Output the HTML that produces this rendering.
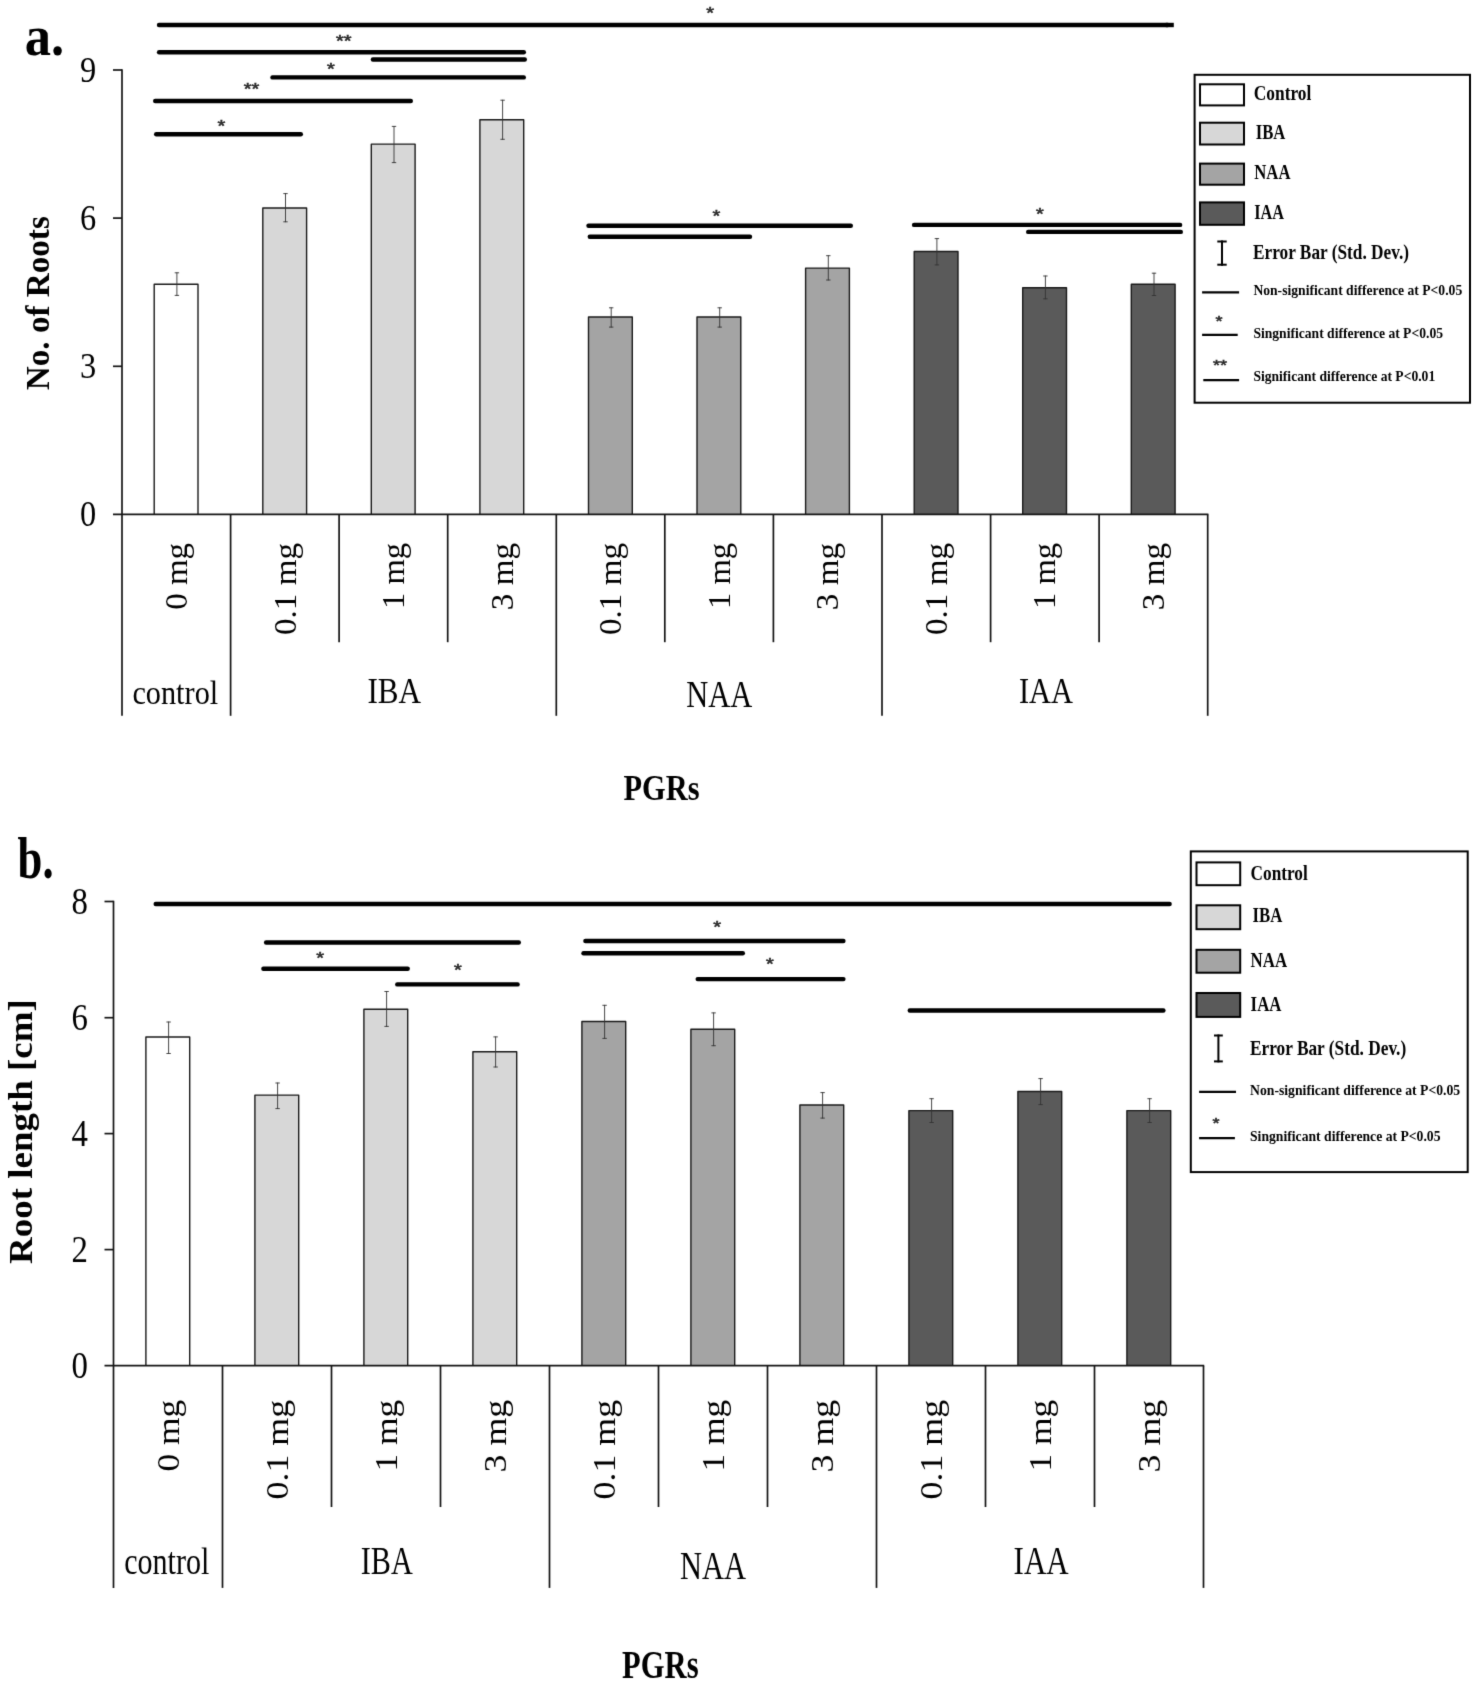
<!DOCTYPE html>
<html><head><meta charset="utf-8"><title>Figure</title>
<style>html,body{margin:0;padding:0;background:#fff;}svg{display:block;filter:grayscale(1);}text{white-space:pre;}</style></head>
<body>
<svg width="1475" height="1688" viewBox="0 0 1475 1688">
<defs><filter id="soft" x="0" y="0" width="100%" height="100%" filterUnits="userSpaceOnUse" color-interpolation-filters="sRGB"><feConvolveMatrix order="3" kernelMatrix="0.012 0.085 0.012 0.085 0.612 0.085 0.012 0.085 0.012" divisor="1" edgeMode="duplicate" preserveAlpha="true"/></filter></defs>
<rect width="1475" height="1688" fill="#fff"/>
<g filter="url(#soft)">
<rect width="1475" height="1688" fill="#fff"/>
<path d="M154.2,514.4 L154.2,284.3 L198.0,284.3 L198.0,514.4" fill="#ffffff" stroke="#1a1a1a" stroke-width="1.4" stroke-linejoin="round"/>
<path d="M262.8,514.4 L262.8,208.0 L306.6,208.0 L306.6,514.4" fill="#d7d7d7" stroke="#1a1a1a" stroke-width="1.4" stroke-linejoin="round"/>
<path d="M371.3,514.4 L371.3,144.1 L415.1,144.1 L415.1,514.4" fill="#d7d7d7" stroke="#1a1a1a" stroke-width="1.4" stroke-linejoin="round"/>
<path d="M479.9,514.4 L479.9,119.7 L523.7,119.7 L523.7,514.4" fill="#d7d7d7" stroke="#1a1a1a" stroke-width="1.4" stroke-linejoin="round"/>
<path d="M588.5,514.4 L588.5,317.0 L632.3,317.0 L632.3,514.4" fill="#a4a4a4" stroke="#1a1a1a" stroke-width="1.4" stroke-linejoin="round"/>
<path d="M697.0,514.4 L697.0,317.0 L740.8,317.0 L740.8,514.4" fill="#a4a4a4" stroke="#1a1a1a" stroke-width="1.4" stroke-linejoin="round"/>
<path d="M805.6,514.4 L805.6,268.1 L849.4,268.1 L849.4,514.4" fill="#a4a4a4" stroke="#1a1a1a" stroke-width="1.4" stroke-linejoin="round"/>
<path d="M914.2,514.4 L914.2,251.5 L958.0,251.5 L958.0,514.4" fill="#5a5a5a" stroke="#1a1a1a" stroke-width="1.4" stroke-linejoin="round"/>
<path d="M1022.7,514.4 L1022.7,287.7 L1066.5,287.7 L1066.5,514.4" fill="#5a5a5a" stroke="#1a1a1a" stroke-width="1.4" stroke-linejoin="round"/>
<path d="M1131.3,514.4 L1131.3,284.2 L1175.1,284.2 L1175.1,514.4" fill="#5a5a5a" stroke="#1a1a1a" stroke-width="1.4" stroke-linejoin="round"/>
<line x1="176.9" y1="272.4" x2="176.9" y2="295.8" stroke="#333" stroke-width="0.9" stroke-linecap="butt"/>
<line x1="174.7" y1="272.8" x2="179.1" y2="272.8" stroke="#333" stroke-width="0.9" stroke-linecap="butt"/>
<line x1="174.7" y1="295.4" x2="179.1" y2="295.4" stroke="#333" stroke-width="0.9" stroke-linecap="butt"/>
<line x1="285.5" y1="193.2" x2="285.5" y2="222.2" stroke="#333" stroke-width="0.9" stroke-linecap="butt"/>
<line x1="283.3" y1="193.6" x2="287.7" y2="193.6" stroke="#333" stroke-width="0.9" stroke-linecap="butt"/>
<line x1="283.3" y1="221.8" x2="287.7" y2="221.8" stroke="#333" stroke-width="0.9" stroke-linecap="butt"/>
<line x1="394.0" y1="126.0" x2="394.0" y2="163.0" stroke="#333" stroke-width="0.9" stroke-linecap="butt"/>
<line x1="391.8" y1="126.4" x2="396.2" y2="126.4" stroke="#333" stroke-width="0.9" stroke-linecap="butt"/>
<line x1="391.8" y1="162.6" x2="396.2" y2="162.6" stroke="#333" stroke-width="0.9" stroke-linecap="butt"/>
<line x1="502.6" y1="99.8" x2="502.6" y2="139.7" stroke="#333" stroke-width="0.9" stroke-linecap="butt"/>
<line x1="500.4" y1="100.2" x2="504.8" y2="100.2" stroke="#333" stroke-width="0.9" stroke-linecap="butt"/>
<line x1="500.4" y1="139.3" x2="504.8" y2="139.3" stroke="#333" stroke-width="0.9" stroke-linecap="butt"/>
<line x1="611.2" y1="307.4" x2="611.2" y2="327.5" stroke="#333" stroke-width="0.9" stroke-linecap="butt"/>
<line x1="609.0" y1="307.8" x2="613.4" y2="307.8" stroke="#333" stroke-width="0.9" stroke-linecap="butt"/>
<line x1="609.0" y1="327.1" x2="613.4" y2="327.1" stroke="#333" stroke-width="0.9" stroke-linecap="butt"/>
<line x1="719.7" y1="307.4" x2="719.7" y2="327.5" stroke="#333" stroke-width="0.9" stroke-linecap="butt"/>
<line x1="717.5" y1="307.8" x2="721.9" y2="307.8" stroke="#333" stroke-width="0.9" stroke-linecap="butt"/>
<line x1="717.5" y1="327.1" x2="721.9" y2="327.1" stroke="#333" stroke-width="0.9" stroke-linecap="butt"/>
<line x1="828.3" y1="255.3" x2="828.3" y2="280.4" stroke="#333" stroke-width="0.9" stroke-linecap="butt"/>
<line x1="826.1" y1="255.7" x2="830.5" y2="255.7" stroke="#333" stroke-width="0.9" stroke-linecap="butt"/>
<line x1="826.1" y1="280.0" x2="830.5" y2="280.0" stroke="#333" stroke-width="0.9" stroke-linecap="butt"/>
<line x1="936.9" y1="238.2" x2="936.9" y2="265.3" stroke="#333" stroke-width="0.9" stroke-linecap="butt"/>
<line x1="934.7" y1="238.6" x2="939.1" y2="238.6" stroke="#333" stroke-width="0.9" stroke-linecap="butt"/>
<line x1="934.7" y1="264.9" x2="939.1" y2="264.9" stroke="#333" stroke-width="0.9" stroke-linecap="butt"/>
<line x1="1045.4" y1="275.6" x2="1045.4" y2="299.2" stroke="#333" stroke-width="0.9" stroke-linecap="butt"/>
<line x1="1043.2" y1="276.0" x2="1047.6" y2="276.0" stroke="#333" stroke-width="0.9" stroke-linecap="butt"/>
<line x1="1043.2" y1="298.8" x2="1047.6" y2="298.8" stroke="#333" stroke-width="0.9" stroke-linecap="butt"/>
<line x1="1154.0" y1="272.8" x2="1154.0" y2="295.9" stroke="#333" stroke-width="0.9" stroke-linecap="butt"/>
<line x1="1151.8" y1="273.2" x2="1156.2" y2="273.2" stroke="#333" stroke-width="0.9" stroke-linecap="butt"/>
<line x1="1151.8" y1="295.5" x2="1156.2" y2="295.5" stroke="#333" stroke-width="0.9" stroke-linecap="butt"/>
<line x1="122.0" y1="69.3" x2="122.0" y2="715.8" stroke="#151515" stroke-width="1.7" stroke-linecap="butt"/>
<line x1="113.0" y1="514.4" x2="1208.4" y2="514.4" stroke="#151515" stroke-width="1.7" stroke-linecap="butt"/>
<line x1="230.6" y1="514.4" x2="230.6" y2="715.8" stroke="#151515" stroke-width="1.7" stroke-linecap="butt"/>
<line x1="339.1" y1="514.4" x2="339.1" y2="642.2" stroke="#151515" stroke-width="1.7" stroke-linecap="butt"/>
<line x1="447.7" y1="514.4" x2="447.7" y2="642.2" stroke="#151515" stroke-width="1.7" stroke-linecap="butt"/>
<line x1="556.3" y1="514.4" x2="556.3" y2="715.8" stroke="#151515" stroke-width="1.7" stroke-linecap="butt"/>
<line x1="664.8" y1="514.4" x2="664.8" y2="642.2" stroke="#151515" stroke-width="1.7" stroke-linecap="butt"/>
<line x1="773.4" y1="514.4" x2="773.4" y2="642.2" stroke="#151515" stroke-width="1.7" stroke-linecap="butt"/>
<line x1="882.0" y1="514.4" x2="882.0" y2="715.8" stroke="#151515" stroke-width="1.7" stroke-linecap="butt"/>
<line x1="990.6" y1="514.4" x2="990.6" y2="642.2" stroke="#151515" stroke-width="1.7" stroke-linecap="butt"/>
<line x1="1099.1" y1="514.4" x2="1099.1" y2="642.2" stroke="#151515" stroke-width="1.7" stroke-linecap="butt"/>
<line x1="1207.7" y1="514.4" x2="1207.7" y2="715.8" stroke="#151515" stroke-width="1.7" stroke-linecap="butt"/>
<line x1="113.0" y1="70.0" x2="122.0" y2="70.0" stroke="#151515" stroke-width="1.7" stroke-linecap="butt"/>
<text x="88.1" y="81.8" font-family='"Liberation Serif", serif' font-size="35" font-weight="normal" text-anchor="middle" fill="#000" textLength="16.2" lengthAdjust="spacingAndGlyphs">9</text>
<line x1="113.0" y1="218.1" x2="122.0" y2="218.1" stroke="#151515" stroke-width="1.7" stroke-linecap="butt"/>
<text x="88.1" y="229.9" font-family='"Liberation Serif", serif' font-size="35" font-weight="normal" text-anchor="middle" fill="#000" textLength="16.2" lengthAdjust="spacingAndGlyphs">6</text>
<line x1="113.0" y1="366.3" x2="122.0" y2="366.3" stroke="#151515" stroke-width="1.7" stroke-linecap="butt"/>
<text x="88.1" y="378.1" font-family='"Liberation Serif", serif' font-size="35" font-weight="normal" text-anchor="middle" fill="#000" textLength="16.2" lengthAdjust="spacingAndGlyphs">3</text>
<text x="88.1" y="526.2" font-family='"Liberation Serif", serif' font-size="35" font-weight="normal" text-anchor="middle" fill="#000" textLength="16.2" lengthAdjust="spacingAndGlyphs">0</text>
<line x1="159.0" y1="25.0" x2="1167.8" y2="25.0" stroke="#000" stroke-width="4.4" stroke-linecap="round"/>
<line x1="1165.8" y1="25.0" x2="1173.8" y2="25.0" stroke="#000" stroke-width="4.4" stroke-linecap="butt"/>
<line x1="159.1" y1="52.3" x2="523.8" y2="52.3" stroke="#000" stroke-width="4.4" stroke-linecap="round"/>
<line x1="372.9" y1="59.5" x2="524.8" y2="59.5" stroke="#000" stroke-width="4.4" stroke-linecap="round"/>
<line x1="272.5" y1="77.4" x2="523.8" y2="77.4" stroke="#000" stroke-width="4.4" stroke-linecap="round"/>
<line x1="155.2" y1="101.0" x2="410.8" y2="101.0" stroke="#000" stroke-width="4.4" stroke-linecap="round"/>
<line x1="156.2" y1="134.2" x2="300.8" y2="134.2" stroke="#000" stroke-width="4.4" stroke-linecap="round"/>
<line x1="588.5" y1="225.7" x2="850.8" y2="225.7" stroke="#000" stroke-width="4.4" stroke-linecap="round"/>
<line x1="589.8" y1="236.7" x2="750.0" y2="236.7" stroke="#000" stroke-width="4.4" stroke-linecap="round"/>
<line x1="914.1" y1="224.9" x2="1180.1" y2="224.9" stroke="#000" stroke-width="4.4" stroke-linecap="round"/>
<line x1="1028.2" y1="231.9" x2="1180.8" y2="231.9" stroke="#000" stroke-width="4.4" stroke-linecap="round"/>
<text transform="translate(710.2,10.0) scale(1,0.84)" x="0" y="10.6" font-family='"Liberation Sans", sans-serif' font-size="20" text-anchor="middle" fill="#2a2a2a" stroke="#2a2a2a" stroke-width="0.7">*</text>
<text transform="translate(343.7,37.7) scale(1,0.84)" x="0" y="10.6" font-family='"Liberation Sans", sans-serif' font-size="20" text-anchor="middle" fill="#2a2a2a" stroke="#2a2a2a" stroke-width="0.7">**</text>
<text transform="translate(330.8,66.1) scale(1,0.84)" x="0" y="10.6" font-family='"Liberation Sans", sans-serif' font-size="20" text-anchor="middle" fill="#2a2a2a" stroke="#2a2a2a" stroke-width="0.7">*</text>
<text transform="translate(251.5,86.3) scale(1,0.84)" x="0" y="10.6" font-family='"Liberation Sans", sans-serif' font-size="20" text-anchor="middle" fill="#2a2a2a" stroke="#2a2a2a" stroke-width="0.7">**</text>
<text transform="translate(221.5,123.3) scale(1,0.84)" x="0" y="10.6" font-family='"Liberation Sans", sans-serif' font-size="20" text-anchor="middle" fill="#2a2a2a" stroke="#2a2a2a" stroke-width="0.7">*</text>
<text transform="translate(716.5,213.1) scale(1,0.84)" x="0" y="10.6" font-family='"Liberation Sans", sans-serif' font-size="20" text-anchor="middle" fill="#2a2a2a" stroke="#2a2a2a" stroke-width="0.7">*</text>
<text transform="translate(1039.8,211.3) scale(1,0.84)" x="0" y="10.6" font-family='"Liberation Sans", sans-serif' font-size="20" text-anchor="middle" fill="#2a2a2a" stroke="#2a2a2a" stroke-width="0.7">*</text>
<text transform="translate(186.9,543.0) rotate(-90)" font-family='"Liberation Serif", serif' font-size="32" font-weight="normal" text-anchor="end" fill="#000" textLength="66.8" lengthAdjust="spacingAndGlyphs">0 mg</text>
<text transform="translate(295.5,543.0) rotate(-90)" font-family='"Liberation Serif", serif' font-size="32" font-weight="normal" text-anchor="end" fill="#000" textLength="92.0" lengthAdjust="spacingAndGlyphs">0.1 mg</text>
<text transform="translate(404.0,543.0) rotate(-90)" font-family='"Liberation Serif", serif' font-size="32" font-weight="normal" text-anchor="end" fill="#000" textLength="66.0" lengthAdjust="spacingAndGlyphs">1 mg</text>
<text transform="translate(512.6,543.0) rotate(-90)" font-family='"Liberation Serif", serif' font-size="32" font-weight="normal" text-anchor="end" fill="#000" textLength="67.2" lengthAdjust="spacingAndGlyphs">3 mg</text>
<text transform="translate(621.2,543.0) rotate(-90)" font-family='"Liberation Serif", serif' font-size="32" font-weight="normal" text-anchor="end" fill="#000" textLength="92.0" lengthAdjust="spacingAndGlyphs">0.1 mg</text>
<text transform="translate(729.7,543.0) rotate(-90)" font-family='"Liberation Serif", serif' font-size="32" font-weight="normal" text-anchor="end" fill="#000" textLength="66.0" lengthAdjust="spacingAndGlyphs">1 mg</text>
<text transform="translate(838.3,543.0) rotate(-90)" font-family='"Liberation Serif", serif' font-size="32" font-weight="normal" text-anchor="end" fill="#000" textLength="67.2" lengthAdjust="spacingAndGlyphs">3 mg</text>
<text transform="translate(946.9,543.0) rotate(-90)" font-family='"Liberation Serif", serif' font-size="32" font-weight="normal" text-anchor="end" fill="#000" textLength="92.0" lengthAdjust="spacingAndGlyphs">0.1 mg</text>
<text transform="translate(1055.4,543.0) rotate(-90)" font-family='"Liberation Serif", serif' font-size="32" font-weight="normal" text-anchor="end" fill="#000" textLength="66.0" lengthAdjust="spacingAndGlyphs">1 mg</text>
<text transform="translate(1164.0,543.0) rotate(-90)" font-family='"Liberation Serif", serif' font-size="32" font-weight="normal" text-anchor="end" fill="#000" textLength="67.2" lengthAdjust="spacingAndGlyphs">3 mg</text>
<text x="132.4" y="703.8" font-family='"Liberation Serif", serif' font-size="34" font-weight="normal" text-anchor="start" fill="#000" textLength="85.8" lengthAdjust="spacingAndGlyphs">control</text>
<text x="367.4" y="703.4" font-family='"Liberation Serif", serif' font-size="36.5" font-weight="normal" text-anchor="start" fill="#000" textLength="53.6" lengthAdjust="spacingAndGlyphs">IBA</text>
<text x="686.2" y="707.0" font-family='"Liberation Serif", serif' font-size="37" font-weight="normal" text-anchor="start" fill="#000" textLength="66.0" lengthAdjust="spacingAndGlyphs">NAA</text>
<text x="1018.9" y="703.4" font-family='"Liberation Serif", serif' font-size="36.5" font-weight="normal" text-anchor="start" fill="#000" textLength="54.0" lengthAdjust="spacingAndGlyphs">IAA</text>
<text x="623.5" y="800.2" font-family='"Liberation Serif", serif' font-size="36.5" font-weight="bold" text-anchor="start" fill="#000" textLength="76.0" lengthAdjust="spacingAndGlyphs">PGRs</text>
<text x="24.8" y="54.9" font-family='"Liberation Serif", serif' font-size="58" font-weight="bold" text-anchor="start" fill="#000" textLength="39.4" lengthAdjust="spacingAndGlyphs">a.</text>
<text transform="translate(48.8,303.2) rotate(-90)" font-family='"Liberation Serif", serif' font-size="33" font-weight="bold" text-anchor="middle" fill="#000" textLength="174.0" lengthAdjust="spacingAndGlyphs">No. of Roots</text>
<rect x="1194.6" y="74.8" width="275.4" height="327.9" fill="#fff" stroke="#000" stroke-width="2"/>
<rect x="1200.0" y="84.3" width="44.0" height="21.1" fill="#ffffff" stroke="#000" stroke-width="2"/>
<rect x="1200.0" y="122.7" width="44.0" height="21.8" fill="#d7d7d7" stroke="#000" stroke-width="2"/>
<rect x="1200.0" y="163.6" width="44.0" height="21.1" fill="#a4a4a4" stroke="#000" stroke-width="2"/>
<rect x="1200.0" y="202.4" width="44.0" height="22.4" fill="#5a5a5a" stroke="#000" stroke-width="2"/>
<text x="1253.8" y="100.4" font-family='"Liberation Serif", serif' font-size="20" font-weight="bold" text-anchor="start" fill="#000" textLength="57.5" lengthAdjust="spacingAndGlyphs">Control</text>
<text x="1255.8" y="138.7" font-family='"Liberation Serif", serif' font-size="20" font-weight="bold" text-anchor="start" fill="#000" textLength="29.6" lengthAdjust="spacingAndGlyphs">IBA</text>
<text x="1254.3" y="178.9" font-family='"Liberation Serif", serif' font-size="20" font-weight="bold" text-anchor="start" fill="#000" textLength="36.2" lengthAdjust="spacingAndGlyphs">NAA</text>
<text x="1254.3" y="218.9" font-family='"Liberation Serif", serif' font-size="20" font-weight="bold" text-anchor="start" fill="#000" textLength="29.8" lengthAdjust="spacingAndGlyphs">IAA</text>
<text x="1253.0" y="259.2" font-family='"Liberation Serif", serif' font-size="20" font-weight="bold" text-anchor="start" fill="#000" textLength="156.0" lengthAdjust="spacingAndGlyphs">Error Bar (Std. Dev.)</text>
<line x1="1222.0" y1="240.5" x2="1222.0" y2="265.7" stroke="#000" stroke-width="2" stroke-linecap="butt"/>
<line x1="1217.3" y1="241.5" x2="1226.7" y2="241.5" stroke="#000" stroke-width="2" stroke-linecap="butt"/>
<line x1="1217.3" y1="264.7" x2="1226.7" y2="264.7" stroke="#000" stroke-width="2" stroke-linecap="butt"/>
<line x1="1202.1" y1="292.4" x2="1239.1" y2="292.4" stroke="#000" stroke-width="2.4" stroke-linecap="butt"/>
<text x="1253.4" y="295.2" font-family='"Liberation Serif", serif' font-size="13.9" font-weight="bold" text-anchor="start" fill="#000" textLength="208.8" lengthAdjust="spacingAndGlyphs">Non-significant difference at P&lt;0.05</text>
<line x1="1202.1" y1="334.9" x2="1237.7" y2="334.9" stroke="#000" stroke-width="2.4" stroke-linecap="butt"/>
<text x="1253.4" y="337.5" font-family='"Liberation Serif", serif' font-size="13.9" font-weight="bold" text-anchor="start" fill="#000" textLength="189.6" lengthAdjust="spacingAndGlyphs">Singnificant difference at P&lt;0.05</text>
<text transform="translate(1219.0,318.8) scale(1,0.84)" x="0" y="9.0" font-family='"Liberation Sans", sans-serif' font-size="18" text-anchor="middle" fill="#2a2a2a" stroke="#2a2a2a" stroke-width="0.7">*</text>
<line x1="1203.3" y1="380.1" x2="1239.1" y2="380.1" stroke="#000" stroke-width="2.4" stroke-linecap="butt"/>
<text x="1253.4" y="381.1" font-family='"Liberation Serif", serif' font-size="13.9" font-weight="bold" text-anchor="start" fill="#000" textLength="181.8" lengthAdjust="spacingAndGlyphs">Significant difference at P&lt;0.01</text>
<text transform="translate(1220.0,362.8) scale(1,0.84)" x="0" y="9.0" font-family='"Liberation Sans", sans-serif' font-size="18" text-anchor="middle" fill="#2a2a2a" stroke="#2a2a2a" stroke-width="0.7">**</text>
<path d="M145.9,1365.7 L145.9,1037.0 L189.7,1037.0 L189.7,1365.7" fill="#ffffff" stroke="#1a1a1a" stroke-width="1.4" stroke-linejoin="round"/>
<path d="M254.9,1365.7 L254.9,1095.1 L298.7,1095.1 L298.7,1365.7" fill="#d7d7d7" stroke="#1a1a1a" stroke-width="1.4" stroke-linejoin="round"/>
<path d="M363.9,1365.7 L363.9,1009.3 L407.7,1009.3 L407.7,1365.7" fill="#d7d7d7" stroke="#1a1a1a" stroke-width="1.4" stroke-linejoin="round"/>
<path d="M472.9,1365.7 L472.9,1051.8 L516.7,1051.8 L516.7,1365.7" fill="#d7d7d7" stroke="#1a1a1a" stroke-width="1.4" stroke-linejoin="round"/>
<path d="M581.9,1365.7 L581.9,1021.5 L625.7,1021.5 L625.7,1365.7" fill="#a4a4a4" stroke="#1a1a1a" stroke-width="1.4" stroke-linejoin="round"/>
<path d="M690.9,1365.7 L690.9,1029.3 L734.7,1029.3 L734.7,1365.7" fill="#a4a4a4" stroke="#1a1a1a" stroke-width="1.4" stroke-linejoin="round"/>
<path d="M799.9,1365.7 L799.9,1105.0 L843.7,1105.0 L843.7,1365.7" fill="#a4a4a4" stroke="#1a1a1a" stroke-width="1.4" stroke-linejoin="round"/>
<path d="M908.9,1365.7 L908.9,1110.6 L952.7,1110.6 L952.7,1365.7" fill="#5a5a5a" stroke="#1a1a1a" stroke-width="1.4" stroke-linejoin="round"/>
<path d="M1017.9,1365.7 L1017.9,1091.5 L1061.7,1091.5 L1061.7,1365.7" fill="#5a5a5a" stroke="#1a1a1a" stroke-width="1.4" stroke-linejoin="round"/>
<path d="M1126.9,1365.7 L1126.9,1110.6 L1170.7,1110.6 L1170.7,1365.7" fill="#5a5a5a" stroke="#1a1a1a" stroke-width="1.4" stroke-linejoin="round"/>
<line x1="168.6" y1="1021.6" x2="168.6" y2="1053.9" stroke="#333" stroke-width="0.9" stroke-linecap="butt"/>
<line x1="166.4" y1="1022.0" x2="170.8" y2="1022.0" stroke="#333" stroke-width="0.9" stroke-linecap="butt"/>
<line x1="166.4" y1="1053.5" x2="170.8" y2="1053.5" stroke="#333" stroke-width="0.9" stroke-linecap="butt"/>
<line x1="277.6" y1="1082.6" x2="277.6" y2="1109.0" stroke="#333" stroke-width="0.9" stroke-linecap="butt"/>
<line x1="275.4" y1="1083.0" x2="279.8" y2="1083.0" stroke="#333" stroke-width="0.9" stroke-linecap="butt"/>
<line x1="275.4" y1="1108.6" x2="279.8" y2="1108.6" stroke="#333" stroke-width="0.9" stroke-linecap="butt"/>
<line x1="386.6" y1="991.1" x2="386.6" y2="1026.8" stroke="#333" stroke-width="0.9" stroke-linecap="butt"/>
<line x1="384.4" y1="991.5" x2="388.8" y2="991.5" stroke="#333" stroke-width="0.9" stroke-linecap="butt"/>
<line x1="384.4" y1="1026.4" x2="388.8" y2="1026.4" stroke="#333" stroke-width="0.9" stroke-linecap="butt"/>
<line x1="495.6" y1="1036.5" x2="495.6" y2="1067.4" stroke="#333" stroke-width="0.9" stroke-linecap="butt"/>
<line x1="493.4" y1="1036.9" x2="497.8" y2="1036.9" stroke="#333" stroke-width="0.9" stroke-linecap="butt"/>
<line x1="493.4" y1="1067.0" x2="497.8" y2="1067.0" stroke="#333" stroke-width="0.9" stroke-linecap="butt"/>
<line x1="604.6" y1="1004.9" x2="604.6" y2="1038.8" stroke="#333" stroke-width="0.9" stroke-linecap="butt"/>
<line x1="602.4" y1="1005.3" x2="606.8" y2="1005.3" stroke="#333" stroke-width="0.9" stroke-linecap="butt"/>
<line x1="602.4" y1="1038.4" x2="606.8" y2="1038.4" stroke="#333" stroke-width="0.9" stroke-linecap="butt"/>
<line x1="713.6" y1="1012.5" x2="713.6" y2="1046.1" stroke="#333" stroke-width="0.9" stroke-linecap="butt"/>
<line x1="711.4" y1="1012.9" x2="715.8" y2="1012.9" stroke="#333" stroke-width="0.9" stroke-linecap="butt"/>
<line x1="711.4" y1="1045.7" x2="715.8" y2="1045.7" stroke="#333" stroke-width="0.9" stroke-linecap="butt"/>
<line x1="822.6" y1="1092.2" x2="822.6" y2="1118.5" stroke="#333" stroke-width="0.9" stroke-linecap="butt"/>
<line x1="820.4" y1="1092.6" x2="824.8" y2="1092.6" stroke="#333" stroke-width="0.9" stroke-linecap="butt"/>
<line x1="820.4" y1="1118.1" x2="824.8" y2="1118.1" stroke="#333" stroke-width="0.9" stroke-linecap="butt"/>
<line x1="931.6" y1="1098.3" x2="931.6" y2="1122.9" stroke="#333" stroke-width="0.9" stroke-linecap="butt"/>
<line x1="929.4" y1="1098.7" x2="933.8" y2="1098.7" stroke="#333" stroke-width="0.9" stroke-linecap="butt"/>
<line x1="929.4" y1="1122.5" x2="933.8" y2="1122.5" stroke="#333" stroke-width="0.9" stroke-linecap="butt"/>
<line x1="1040.6" y1="1078.2" x2="1040.6" y2="1105.0" stroke="#333" stroke-width="0.9" stroke-linecap="butt"/>
<line x1="1038.4" y1="1078.6" x2="1042.8" y2="1078.6" stroke="#333" stroke-width="0.9" stroke-linecap="butt"/>
<line x1="1038.4" y1="1104.6" x2="1042.8" y2="1104.6" stroke="#333" stroke-width="0.9" stroke-linecap="butt"/>
<line x1="1149.6" y1="1098.3" x2="1149.6" y2="1122.9" stroke="#333" stroke-width="0.9" stroke-linecap="butt"/>
<line x1="1147.4" y1="1098.7" x2="1151.8" y2="1098.7" stroke="#333" stroke-width="0.9" stroke-linecap="butt"/>
<line x1="1147.4" y1="1122.5" x2="1151.8" y2="1122.5" stroke="#333" stroke-width="0.9" stroke-linecap="butt"/>
<line x1="113.5" y1="900.8" x2="113.5" y2="1587.9" stroke="#151515" stroke-width="1.7" stroke-linecap="butt"/>
<line x1="104.5" y1="1365.7" x2="1204.2" y2="1365.7" stroke="#151515" stroke-width="1.7" stroke-linecap="butt"/>
<line x1="222.5" y1="1365.7" x2="222.5" y2="1587.9" stroke="#151515" stroke-width="1.7" stroke-linecap="butt"/>
<line x1="331.5" y1="1365.7" x2="331.5" y2="1507.0" stroke="#151515" stroke-width="1.7" stroke-linecap="butt"/>
<line x1="440.5" y1="1365.7" x2="440.5" y2="1507.0" stroke="#151515" stroke-width="1.7" stroke-linecap="butt"/>
<line x1="549.5" y1="1365.7" x2="549.5" y2="1587.9" stroke="#151515" stroke-width="1.7" stroke-linecap="butt"/>
<line x1="658.5" y1="1365.7" x2="658.5" y2="1507.0" stroke="#151515" stroke-width="1.7" stroke-linecap="butt"/>
<line x1="767.5" y1="1365.7" x2="767.5" y2="1507.0" stroke="#151515" stroke-width="1.7" stroke-linecap="butt"/>
<line x1="876.5" y1="1365.7" x2="876.5" y2="1587.9" stroke="#151515" stroke-width="1.7" stroke-linecap="butt"/>
<line x1="985.5" y1="1365.7" x2="985.5" y2="1507.0" stroke="#151515" stroke-width="1.7" stroke-linecap="butt"/>
<line x1="1094.5" y1="1365.7" x2="1094.5" y2="1507.0" stroke="#151515" stroke-width="1.7" stroke-linecap="butt"/>
<line x1="1203.5" y1="1365.7" x2="1203.5" y2="1587.9" stroke="#151515" stroke-width="1.7" stroke-linecap="butt"/>
<line x1="104.5" y1="901.5" x2="113.5" y2="901.5" stroke="#151515" stroke-width="1.7" stroke-linecap="butt"/>
<text x="79.7" y="913.9" font-family='"Liberation Serif", serif' font-size="37.5" font-weight="normal" text-anchor="middle" fill="#000" textLength="16.4" lengthAdjust="spacingAndGlyphs">8</text>
<line x1="104.5" y1="1017.7" x2="113.5" y2="1017.7" stroke="#151515" stroke-width="1.7" stroke-linecap="butt"/>
<text x="79.7" y="1030.1" font-family='"Liberation Serif", serif' font-size="37.5" font-weight="normal" text-anchor="middle" fill="#000" textLength="16.4" lengthAdjust="spacingAndGlyphs">6</text>
<line x1="104.5" y1="1133.6" x2="113.5" y2="1133.6" stroke="#151515" stroke-width="1.7" stroke-linecap="butt"/>
<text x="79.7" y="1146.0" font-family='"Liberation Serif", serif' font-size="37.5" font-weight="normal" text-anchor="middle" fill="#000" textLength="16.4" lengthAdjust="spacingAndGlyphs">4</text>
<line x1="104.5" y1="1249.6" x2="113.5" y2="1249.6" stroke="#151515" stroke-width="1.7" stroke-linecap="butt"/>
<text x="79.7" y="1262.0" font-family='"Liberation Serif", serif' font-size="37.5" font-weight="normal" text-anchor="middle" fill="#000" textLength="16.4" lengthAdjust="spacingAndGlyphs">2</text>
<text x="79.7" y="1378.1" font-family='"Liberation Serif", serif' font-size="37.5" font-weight="normal" text-anchor="middle" fill="#000" textLength="16.4" lengthAdjust="spacingAndGlyphs">0</text>
<line x1="155.7" y1="904.0" x2="1169.6" y2="904.0" stroke="#000" stroke-width="4.4" stroke-linecap="round"/>
<line x1="266.1" y1="942.5" x2="518.8" y2="942.5" stroke="#000" stroke-width="4.4" stroke-linecap="round"/>
<line x1="263.4" y1="968.7" x2="407.7" y2="968.7" stroke="#000" stroke-width="4.4" stroke-linecap="round"/>
<line x1="397.3" y1="984.4" x2="517.6" y2="984.4" stroke="#000" stroke-width="4.4" stroke-linecap="round"/>
<line x1="585.4" y1="941.0" x2="843.4" y2="941.0" stroke="#000" stroke-width="4.4" stroke-linecap="round"/>
<line x1="583.5" y1="953.3" x2="742.8" y2="953.3" stroke="#000" stroke-width="4.4" stroke-linecap="round"/>
<line x1="697.7" y1="979.1" x2="843.4" y2="979.1" stroke="#000" stroke-width="4.4" stroke-linecap="round"/>
<line x1="909.8" y1="1010.5" x2="1163.4" y2="1010.5" stroke="#000" stroke-width="4.4" stroke-linecap="round"/>
<text transform="translate(320.1,955.5) scale(1,0.84)" x="0" y="10.6" font-family='"Liberation Sans", sans-serif' font-size="20" text-anchor="middle" fill="#2a2a2a" stroke="#2a2a2a" stroke-width="0.7">*</text>
<text transform="translate(458.0,967.5) scale(1,0.84)" x="0" y="10.6" font-family='"Liberation Sans", sans-serif' font-size="20" text-anchor="middle" fill="#2a2a2a" stroke="#2a2a2a" stroke-width="0.7">*</text>
<text transform="translate(717.1,924.1) scale(1,0.84)" x="0" y="10.6" font-family='"Liberation Sans", sans-serif' font-size="20" text-anchor="middle" fill="#2a2a2a" stroke="#2a2a2a" stroke-width="0.7">*</text>
<text transform="translate(769.8,960.8) scale(1,0.84)" x="0" y="10.6" font-family='"Liberation Sans", sans-serif' font-size="20" text-anchor="middle" fill="#2a2a2a" stroke="#2a2a2a" stroke-width="0.7">*</text>
<text transform="translate(178.7,1399.7) rotate(-90)" font-family='"Liberation Serif", serif' font-size="31.5" font-weight="normal" text-anchor="end" fill="#000" textLength="71.8" lengthAdjust="spacingAndGlyphs">0 mg</text>
<text transform="translate(287.7,1399.7) rotate(-90)" font-family='"Liberation Serif", serif' font-size="31.5" font-weight="normal" text-anchor="end" fill="#000" textLength="99.9" lengthAdjust="spacingAndGlyphs">0.1 mg</text>
<text transform="translate(396.7,1399.7) rotate(-90)" font-family='"Liberation Serif", serif' font-size="31.5" font-weight="normal" text-anchor="end" fill="#000" textLength="71.8" lengthAdjust="spacingAndGlyphs">1 mg</text>
<text transform="translate(505.7,1399.7) rotate(-90)" font-family='"Liberation Serif", serif' font-size="31.5" font-weight="normal" text-anchor="end" fill="#000" textLength="72.8" lengthAdjust="spacingAndGlyphs">3 mg</text>
<text transform="translate(614.7,1399.7) rotate(-90)" font-family='"Liberation Serif", serif' font-size="31.5" font-weight="normal" text-anchor="end" fill="#000" textLength="99.9" lengthAdjust="spacingAndGlyphs">0.1 mg</text>
<text transform="translate(723.7,1399.7) rotate(-90)" font-family='"Liberation Serif", serif' font-size="31.5" font-weight="normal" text-anchor="end" fill="#000" textLength="71.8" lengthAdjust="spacingAndGlyphs">1 mg</text>
<text transform="translate(832.7,1399.7) rotate(-90)" font-family='"Liberation Serif", serif' font-size="31.5" font-weight="normal" text-anchor="end" fill="#000" textLength="72.8" lengthAdjust="spacingAndGlyphs">3 mg</text>
<text transform="translate(941.7,1399.7) rotate(-90)" font-family='"Liberation Serif", serif' font-size="31.5" font-weight="normal" text-anchor="end" fill="#000" textLength="99.9" lengthAdjust="spacingAndGlyphs">0.1 mg</text>
<text transform="translate(1050.7,1399.7) rotate(-90)" font-family='"Liberation Serif", serif' font-size="31.5" font-weight="normal" text-anchor="end" fill="#000" textLength="71.8" lengthAdjust="spacingAndGlyphs">1 mg</text>
<text transform="translate(1159.7,1399.7) rotate(-90)" font-family='"Liberation Serif", serif' font-size="31.5" font-weight="normal" text-anchor="end" fill="#000" textLength="72.8" lengthAdjust="spacingAndGlyphs">3 mg</text>
<text x="124.2" y="1574.3" font-family='"Liberation Serif", serif' font-size="37.5" font-weight="normal" text-anchor="start" fill="#000" textLength="85.2" lengthAdjust="spacingAndGlyphs">control</text>
<text x="360.8" y="1574.2" font-family='"Liberation Serif", serif' font-size="39" font-weight="normal" text-anchor="start" fill="#000" textLength="52.0" lengthAdjust="spacingAndGlyphs">IBA</text>
<text x="680.0" y="1579.3" font-family='"Liberation Serif", serif' font-size="39" font-weight="normal" text-anchor="start" fill="#000" textLength="66.0" lengthAdjust="spacingAndGlyphs">NAA</text>
<text x="1013.6" y="1574.2" font-family='"Liberation Serif", serif' font-size="39" font-weight="normal" text-anchor="start" fill="#000" textLength="55.0" lengthAdjust="spacingAndGlyphs">IAA</text>
<text x="622.0" y="1678.3" font-family='"Liberation Serif", serif' font-size="40" font-weight="bold" text-anchor="start" fill="#000" textLength="76.6" lengthAdjust="spacingAndGlyphs">PGRs</text>
<text x="17.6" y="878.0" font-family='"Liberation Serif", serif' font-size="59" font-weight="bold" text-anchor="start" fill="#000" textLength="36.0" lengthAdjust="spacingAndGlyphs">b.</text>
<text transform="translate(31.5,1131.6) rotate(-90)" font-family='"Liberation Serif", serif' font-size="33" font-weight="bold" text-anchor="middle" fill="#000" textLength="264.6" lengthAdjust="spacingAndGlyphs">Root length [cm]</text>
<rect x="1190.8" y="851.4" width="276.9" height="320.7" fill="#fff" stroke="#000" stroke-width="2"/>
<rect x="1196.5" y="862.4" width="43.7" height="22.8" fill="#ffffff" stroke="#000" stroke-width="2"/>
<rect x="1196.5" y="905.3" width="43.7" height="23.9" fill="#d7d7d7" stroke="#000" stroke-width="2"/>
<rect x="1196.5" y="949.8" width="43.7" height="22.9" fill="#a4a4a4" stroke="#000" stroke-width="2"/>
<rect x="1196.5" y="993.0" width="43.7" height="23.9" fill="#5a5a5a" stroke="#000" stroke-width="2"/>
<text x="1250.6" y="879.8" font-family='"Liberation Serif", serif' font-size="21" font-weight="bold" text-anchor="start" fill="#000" textLength="57.2" lengthAdjust="spacingAndGlyphs">Control</text>
<text x="1252.5" y="922.3" font-family='"Liberation Serif", serif' font-size="21" font-weight="bold" text-anchor="start" fill="#000" textLength="29.8" lengthAdjust="spacingAndGlyphs">IBA</text>
<text x="1250.6" y="966.5" font-family='"Liberation Serif", serif' font-size="21" font-weight="bold" text-anchor="start" fill="#000" textLength="36.5" lengthAdjust="spacingAndGlyphs">NAA</text>
<text x="1250.6" y="1010.6" font-family='"Liberation Serif", serif' font-size="21" font-weight="bold" text-anchor="start" fill="#000" textLength="30.8" lengthAdjust="spacingAndGlyphs">IAA</text>
<text x="1250.0" y="1055.0" font-family='"Liberation Serif", serif' font-size="21" font-weight="bold" text-anchor="start" fill="#000" textLength="156.2" lengthAdjust="spacingAndGlyphs">Error Bar (Std. Dev.)</text>
<line x1="1218.4" y1="1034.5" x2="1218.4" y2="1062.4" stroke="#000" stroke-width="2" stroke-linecap="butt"/>
<line x1="1214.0" y1="1035.5" x2="1222.8" y2="1035.5" stroke="#000" stroke-width="2" stroke-linecap="butt"/>
<line x1="1214.0" y1="1061.4" x2="1222.8" y2="1061.4" stroke="#000" stroke-width="2" stroke-linecap="butt"/>
<line x1="1199.1" y1="1091.9" x2="1236.0" y2="1091.9" stroke="#000" stroke-width="2.4" stroke-linecap="butt"/>
<text x="1250.0" y="1095.0" font-family='"Liberation Serif", serif' font-size="14.8" font-weight="bold" text-anchor="start" fill="#000" textLength="210.2" lengthAdjust="spacingAndGlyphs">Non-significant difference at P&lt;0.05</text>
<line x1="1199.1" y1="1138.1" x2="1234.9" y2="1138.1" stroke="#000" stroke-width="2.4" stroke-linecap="butt"/>
<text x="1250.0" y="1141.2" font-family='"Liberation Serif", serif' font-size="14.8" font-weight="bold" text-anchor="start" fill="#000" textLength="190.5" lengthAdjust="spacingAndGlyphs">Singnificant difference at P&lt;0.05</text>
<text transform="translate(1216.1,1120.7) scale(1,0.84)" x="0" y="9.0" font-family='"Liberation Sans", sans-serif' font-size="18" text-anchor="middle" fill="#2a2a2a" stroke="#2a2a2a" stroke-width="0.7">*</text>
</g>
</svg>
</body></html>
